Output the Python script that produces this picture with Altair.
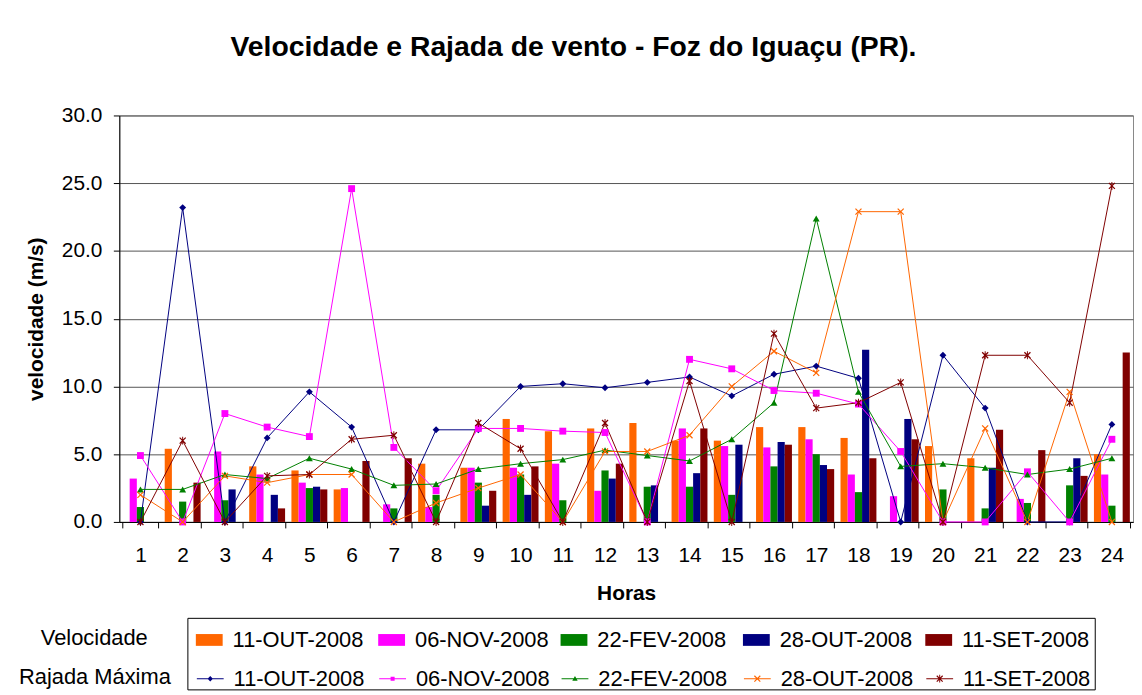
import altair as alt
import pandas as pd

HORAS = list(range(1, 25))
SERIES = ["11-OUT-2008", "06-NOV-2008", "22-FEV-2008", "28-OUT-2008", "11-SET-2008"]
CORES_BARRA = ["#FF6600", "#FF00FF", "#008000", "#000080", "#800000"]
CORES_LINHA = ["#000080", "#FF00FF", "#008000", "#FF6600", "#800000"]

# Velocidade (bars)
VEL_11_OUT = [0, 5.4, 0, 4.1, 3.8, 2.4, 0, 4.3, 4.0, 7.6, 6.7, 6.9, 7.3, 6.0, 6.0, 7.0, 7.0, 6.2, 0, 5.6, 4.7, 0, 0, 5.0]
VEL_06_NOV = [3.2, 0, 5.2, 3.5, 2.9, 2.5, 1.3, 1.1, 4.0, 4.0, 4.3, 2.3, 0, 6.9, 5.6, 5.5, 6.1, 3.5, 1.9, 0, 0, 1.7, 0, 3.5]
VEL_22_FEV = [1.1, 1.5, 1.6, 0, 2.5, 0, 1.0, 2.0, 2.9, 3.5, 1.6, 3.8, 2.6, 2.6, 2.0, 4.1, 5.0, 2.2, 0, 2.4, 1.0, 1.4, 2.7, 1.2]
VEL_28_OUT = [0, 0, 2.4, 2.0, 2.6, 0, 0, 0, 1.2, 2.0, 0, 3.2, 2.7, 3.6, 5.7, 5.9, 4.2, 12.7, 7.6, 0, 4.0, 0, 4.7, 0]
VEL_11_SET = [0, 2.9, 0, 1.0, 2.4, 4.5, 4.7, 0, 2.3, 4.1, 0, 4.3, 0, 6.9, 0, 5.7, 3.9, 4.7, 6.1, 0, 6.8, 5.3, 3.4, 12.5]

# Rajada maxima (lines)
RAJ_11_OUT = [0, 23.2, 0, 6.2, 9.6, 7.0, 0, 6.8, 6.8, 10.0, 10.2, 9.9, 10.3, 10.7, 9.3, 10.9, 11.5, 10.6, 0, 12.3, 8.4, 0, 0, 7.2]
RAJ_06_NOV = [4.9, 0, 8.0, 7.0, 6.3, 24.6, 5.5, 2.3, 6.9, 6.9, 6.7, 6.6, 0, 12.0, 11.3, 9.7, 9.5, 8.7, 5.2, 0, 0, 3.7, 0, 6.1]
RAJ_22_FEV = [2.4, 2.4, 3.5, 3.2, 4.7, 3.9, 2.7, 2.8, 3.9, 4.3, 4.6, 5.3, 4.9, 4.5, 6.1, 8.8, 22.4, 9.6, 4.1, 4.3, 4.0, 3.5, 3.9, 4.7]
RAJ_28_OUT = [2.0, 0, 3.4, 2.9, 3.5, 3.5, 0, 1.4, 2.5, 3.5, 0, 5.2, 5.2, 6.4, 10.0, 12.6, 11.0, 22.9, 22.9, 0, 6.9, 0, 9.6, 0]
RAJ_11_SET = [0, 6.0, 0, 3.4, 3.5, 6.1, 6.4, 0, 7.3, 5.4, 0, 7.3, 0, 10.4, 0, 13.9, 8.4, 8.8, 10.3, 0, 12.3, 12.3, 8.8, 24.8]

Y_TICKS = [0, 5, 10, 15, 20, 25, 30]

# marker shapes (filled polygons so that they render with fill only)
X_PATH = "M-1,-0.75L-0.75,-1L1,0.75L0.75,1Z M-0.75,1L-1,0.75L0.75,-1L1,-0.75Z"
STAR_PATH = ("M-1,-0.75L-0.75,-1L1,0.75L0.75,1Z M-0.75,1L-1,0.75L0.75,-1L1,-0.75Z "
             "M-0.14,-1.15L0.14,-1.15L0.14,1.15L-0.14,1.15Z")
SHAPES = ["diamond", "square", "triangle-up", X_PATH, STAR_PATH]

# legend keys: short line with a small marker in the middle
LINE_KEY = "M-1,-0.04L1,-0.04L1,0.04L-1,0.04Z "
LEGEND_SHAPES = [
    LINE_KEY + "M0,-0.2L0.2,0L0,0.2L-0.2,0Z",
    LINE_KEY + "M-0.15,-0.15L0.15,-0.15L0.15,0.15L-0.15,0.15Z",
    LINE_KEY + "M0,-0.2L0.2,0.15L-0.2,0.15Z",
    LINE_KEY + "M-0.25,-0.19L-0.19,-0.25L0.25,0.19L0.19,0.25Z M-0.19,0.25L-0.25,0.19L0.19,-0.25L0.25,-0.19Z",
    LINE_KEY + ("M-0.25,-0.19L-0.19,-0.25L0.25,0.19L0.19,0.25Z M-0.19,0.25L-0.25,0.19L0.19,-0.25L0.25,-0.19Z "
                "M-0.035,-0.29L0.035,-0.29L0.035,0.29L-0.035,0.29Z"),
]
RECT_PATH = "M-1,-0.44L1,-0.44L1,0.44L-1,0.44Z"

FONT = "Liberation Sans"

vel_rows = []
for serie, vals in zip(SERIES, [VEL_11_OUT, VEL_06_NOV, VEL_22_FEV, VEL_28_OUT, VEL_11_SET]):
    for h, v in zip(HORAS, vals):
        vel_rows.append({"hora": h, "serie_vel": serie, "valor": v})
df_vel = pd.DataFrame(vel_rows)

raj_rows = []
for serie, vals in zip(SERIES, [RAJ_11_OUT, RAJ_06_NOV, RAJ_22_FEV, RAJ_28_OUT, RAJ_11_SET]):
    for h, v in zip(HORAS, vals):
        raj_rows.append({"hora": h, "serie_raj": serie, "valor": v})
df_raj = pd.DataFrame(raj_rows)

x_enc = alt.X(
    "hora:O",
    scale=alt.Scale(paddingInner=0.15, paddingOuter=0.075),
    axis=alt.Axis(
        title="Horas", labelAngle=0, tickBand="extent", tickSize=6,
        tickColor="black", domainColor="black", labelColor="black",
        labelFontSize=21, labelFont=FONT, labelBaseline="middle", labelPadding=28,
        titleFontSize=21, titleFont=FONT, titleFontWeight="bold", titleColor="black",
        titleY=72, titleBaseline="middle", grid=False,
    ),
)
y_enc = alt.Y(
    "valor:Q",
    scale=alt.Scale(domain=[0, 30], nice=False),
    axis=alt.Axis(
        values=Y_TICKS, format=".1f", title="velocidade (m/s)",
        titleFontSize=21, titleFont=FONT, titleFontWeight="bold", titleColor="black",
        titleX=-83, titleY=204.5, titleAngle=270, titleBaseline="middle", titleAlign="center",
        labelFontSize=21, labelFont=FONT, labelColor="black", labelPadding=11.5,
        tickSize=6, tickColor="black", domainColor="black",
        grid=True, gridColor="#555555",
    ),
)

LEGEND_COMMON = dict(
    orient="none", direction="horizontal", columns=5, gridAlign="all",
    titleOrient="left", titleFontSize=22, titleFont=FONT,
    titleFontWeight="normal", titleColor="black",
    labelFontSize=22, labelFont=FONT, labelColor="black", labelLimit=300,
    symbolSize=729, symbolStrokeWidth=0, labelOffset=10, columnPadding=11.5, padding=0,
)

bars = alt.Chart(df_vel).mark_bar().encode(
    x=x_enc,
    xOffset=alt.XOffset("serie_vel:N", scale=alt.Scale(domain=SERIES, paddingInner=0, paddingOuter=0)),
    y=y_enc,
    color=alt.Color(
        "serie_vel:N",
        scale=alt.Scale(domain=SERIES, range=CORES_BARRA),
        legend=alt.Legend(
            title="Velocidade", legendX=-79, legendY=514, titlePadding=48,
            symbolType=RECT_PATH, **LEGEND_COMMON,
        ),
    ),
)

lines = alt.Chart(df_raj).mark_line(strokeWidth=1).encode(
    x=alt.X("hora:O"),
    y=alt.Y("valor:Q"),
    stroke=alt.Stroke("serie_raj:N", scale=alt.Scale(domain=SERIES, range=CORES_LINHA), legend=None),
)

points = alt.Chart(df_raj).mark_point(filled=True, opacity=1, size=48).encode(
    x=alt.X("hora:O"),
    y=alt.Y("valor:Q"),
    color=alt.Color("serie_raj:N", scale=alt.Scale(domain=SERIES, range=CORES_LINHA), legend=None),
    shape=alt.Shape("serie_raj:N", scale=alt.Scale(domain=SERIES, range=SHAPES), legend=None),
)

# empty layer that only carries the "Rajada Máxima" legend (line + marker keys)
legend_keys = alt.Chart(df_raj).mark_point(filled=True, opacity=1).encode(
    x=alt.X("hora:O"),
    y=alt.Y("valor:Q"),
    color=alt.Color(
        "serie_raj:N",
        scale=alt.Scale(domain=SERIES, range=CORES_LINHA),
        legend=alt.Legend(
            title="Rajada Máxima", legendX=-101, legendY=553, titlePadding=26,
            **LEGEND_COMMON,
        ),
    ),
    shape=alt.Shape("serie_raj:N", scale=alt.Scale(domain=SERIES, range=LEGEND_SHAPES)),
).transform_filter("false")

box = alt.Chart(pd.DataFrame({"k": [0]})).mark_rect(
    fill="transparent", stroke="black", strokeWidth=1
).encode(
    x=alt.value(69), x2=alt.value(982), y=alt.value(506), y2=alt.value(578)
)

chart = alt.layer(
    bars, alt.layer(lines, points), legend_keys, box
).resolve_scale(
    color="independent", shape="independent"
).properties(
    width=1020,
    height=409,
    autosize=alt.AutoSizeParams(type="none"),
    padding={"left": 112, "top": 106, "right": 1, "bottom": 170},
    title=alt.TitleParams(
        text="Velocidade e Rajada de vento - Foz do Iguaçu (PR).",
        fontSize=28.5, font=FONT, fontWeight="bold", color="black",
        anchor="middle", offset=43, dx=-53,
    ),
).configure(
    font=FONT, background="white"
).configure_view(
    stroke="#888888"
)

chart.save("out.html", embed_options={"renderer": "svg", "actions": False})
